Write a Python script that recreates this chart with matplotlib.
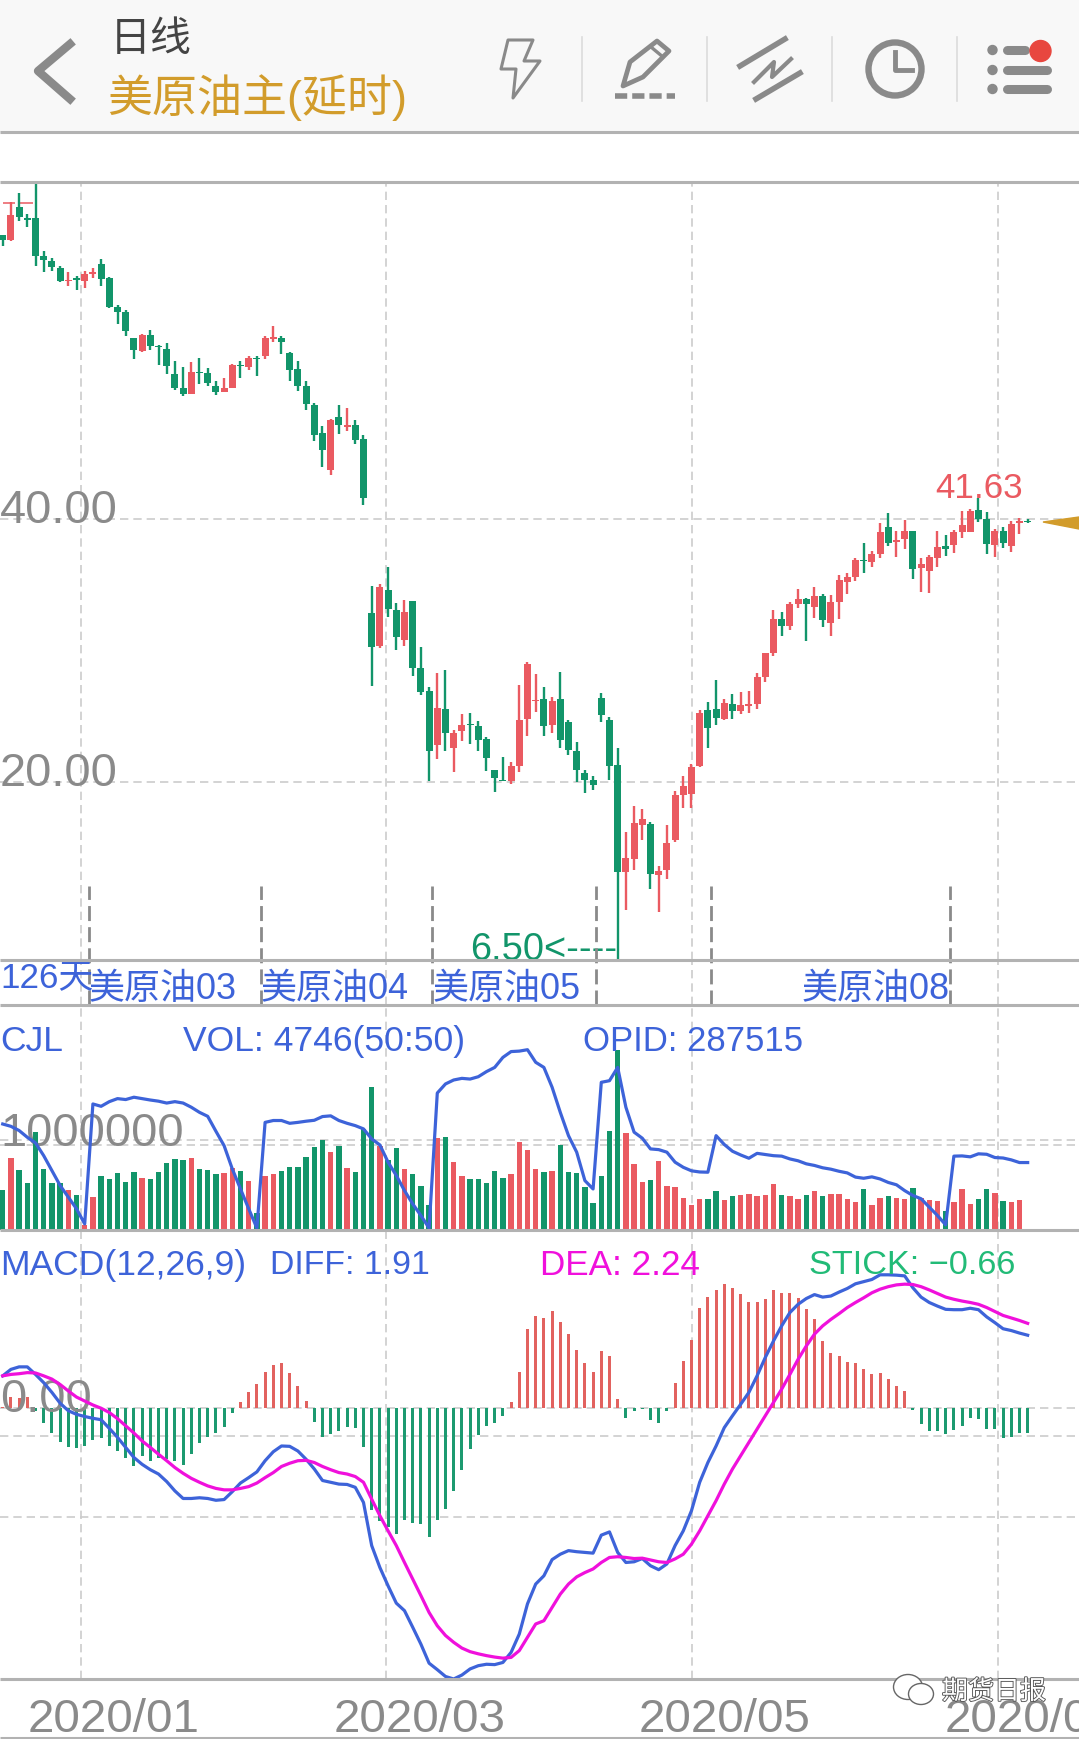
import matplotlib
matplotlib.use('Agg')
import matplotlib.pyplot as plt
from matplotlib.patches import Rectangle, Polygon, Circle, Ellipse
import matplotlib.patheffects as pe

plt.rcParams['font.family'] = ['Liberation Sans', 'Noto Sans CJK SC', 'DejaVu Sans']

# daily candles, index 0..125
opens = [61.62, 61.22, 63.75, 62.92, 62.87, 60.03, 59.65, 59.09, 58.10, 58.33,
         58.13, 58.66, 59.37, 58.33, 56.15, 55.72, 53.74, 52.78, 53.99, 53.16,
         52.90, 51.03, 49.94, 49.53, 51.18, 51.08, 50.09, 49.68, 49.99, 51.71,
         51.56, 52.27, 52.37, 53.69, 53.77, 52.62, 51.38, 50.09, 48.67, 46.51,
         43.73, 47.73, 46.97, 47.12, 46.08, 32.85, 30.32, 34.58, 33.06, 30.82,
         33.74, 28.64, 26.90, 22.84, 25.53, 22.56, 23.90, 24.41, 24.26, 23.27,
         20.89, 20.18, 20.10, 21.24, 24.82, 26.13, 26.29, 24.31, 26.29, 24.54,
         22.36, 20.66, 20.15, 26.39, 24.69, 21.27, 13.13, 14.14, 16.76, 16.81,
         12.95, 13.33, 15.56, 19.04, 19.09, 21.22, 25.45, 25.53, 24.79, 25.91,
         25.42, 25.80, 25.93, 28.01, 29.83, 32.37, 31.89, 33.56, 33.92, 33.33,
         34.17, 32.12, 33.71, 35.23, 35.61, 36.88, 36.73, 37.36, 39.39, 38.28,
         38.48, 39.09, 36.27, 36.07, 37.06, 37.92, 38.05, 39.04, 39.04, 40.66,
         40.00, 38.05, 39.06, 37.97, 39.72, 39.82]
closes = [61.24, 63.12, 62.94, 62.76, 60.03, 59.67, 59.16, 58.13, 58.20, 58.20,
          58.63, 58.81, 58.28, 56.15, 55.77, 54.27, 52.88, 54.02, 53.13, 53.06,
          51.66, 49.99, 49.51, 51.15, 51.08, 50.34, 49.68, 49.96, 51.71, 51.61,
          52.27, 52.17, 53.77, 53.82, 53.49, 51.36, 50.14, 48.72, 46.41, 45.27,
          47.53, 47.17, 47.17, 46.03, 41.62, 30.29, 34.83, 33.16, 31.05, 32.90,
          28.70, 26.87, 22.38, 25.60, 23.70, 23.70, 24.31, 24.31, 23.22, 21.85,
          20.33, 20.08, 21.19, 24.69, 29.00, 26.26, 24.28, 26.16, 23.22, 22.43,
          20.89, 20.18, 19.80, 25.12, 21.24, 13.13, 14.19, 16.86, 17.19, 12.98,
          13.23, 15.34, 19.04, 19.67, 21.12, 25.25, 24.13, 24.89, 26.01, 25.42,
          25.85, 25.91, 27.96, 29.78, 32.39, 31.89, 33.51, 33.92, 33.56, 34.12,
          32.29, 33.66, 35.36, 35.59, 36.88, 36.78, 37.31, 38.99, 38.17, 38.38,
          39.09, 36.22, 36.55, 37.11, 37.90, 37.72, 39.01, 39.52, 40.63, 40.00,
          38.12, 39.11, 38.20, 39.59, 39.82, 39.77]
highs = [61.62, 64.08, 64.79, 63.20, 65.73, 60.36, 59.82, 59.27, 58.76, 58.45,
         58.89, 59.06, 59.77, 58.38, 56.27, 55.92, 53.77, 54.07, 54.37, 53.23,
         53.36, 51.99, 51.53, 51.97, 52.22, 51.46, 50.49, 50.72, 51.76, 51.99,
         52.40, 52.42, 53.89, 54.65, 53.89, 52.68, 51.99, 50.47, 48.80, 47.07,
         47.60, 48.67, 48.42, 47.55, 46.39, 34.88, 35.06, 36.33, 33.61, 33.84,
         33.74, 30.24, 27.20, 28.29, 28.52, 23.98, 25.17, 25.25, 24.61, 23.40,
         20.89, 21.88, 21.50, 27.38, 29.10, 28.21, 27.20, 26.44, 28.34, 24.72,
         23.02, 20.91, 20.48, 26.77, 24.92, 22.59, 16.17, 18.20, 17.95, 16.93,
         13.64, 16.73, 19.34, 20.43, 21.37, 25.45, 26.06, 27.76, 26.31, 26.69,
         26.82, 26.89, 28.26, 29.81, 33.05, 32.90, 33.71, 34.68, 33.97, 34.83,
         34.30, 34.22, 35.74, 35.89, 37.06, 38.17, 37.59, 39.70, 40.46, 39.11,
         39.95, 39.09, 37.06, 37.26, 39.09, 38.78, 39.19, 40.61, 40.76, 41.63,
         40.51, 39.24, 39.37, 39.87, 40.05, 39.97]
lows = [60.74, 61.17, 62.69, 62.18, 59.22, 58.76, 58.89, 58.00, 57.75, 57.44,
        57.59, 58.33, 57.75, 56.07, 54.86, 53.94, 52.17, 52.73, 52.88, 51.74,
        51.03, 49.84, 49.38, 49.51, 50.27, 50.14, 49.46, 49.63, 49.96, 50.70,
        51.33, 50.90, 52.17, 53.49, 52.55, 50.52, 49.76, 48.31, 45.96, 43.93,
        43.37, 46.46, 46.72, 45.70, 41.06, 27.33, 30.22, 32.57, 30.06, 30.37,
        28.09, 26.64, 20.10, 21.75, 22.38, 20.79, 23.14, 22.89, 22.38, 20.86,
        19.26, 20.05, 19.85, 20.79, 23.52, 25.30, 23.52, 23.73, 22.59, 22.08,
        19.97, 19.16, 19.42, 24.59, 20.18, 6.50, 10.29, 13.33, 15.61, 11.86,
        10.09, 12.62, 15.46, 18.05, 18.05, 21.17, 22.59, 24.33, 24.74, 24.79,
        25.20, 25.27, 25.55, 27.58, 29.61, 31.13, 31.58, 33.26, 30.75, 32.50,
        31.81, 31.13, 32.39, 34.32, 35.31, 35.92, 36.35, 37.06, 37.92, 37.14,
        37.72, 35.44, 34.47, 34.40, 36.35, 37.19, 37.41, 38.58, 39.01, 39.80,
        37.34, 37.14, 37.79, 37.52, 38.88, 39.72]

# volume and open interest, thousands of lots
volume = [467, 843, 702, 549, 1145, 714, 549, 549, 467, 408,
          55, 384, 631, 596, 667, 561, 678, 608, 596, 678,
          784, 831, 820, 843, 714, 702, 655, 667, 726, 690,
          573, 196, 631, 655, 690, 737, 737, 855, 973, 1055,
          914, 984, 726, 678, 1184, 1679, 988, 820, 961, 714,
          655, 514, 290, 1079, 1090, 796, 631, 596, 596, 549,
          690, 608, 655, 1031, 937, 714, 678, 690, 996, 678,
          667, 502, 314, 631, 1161, 2114, 1137, 773, 561, 584,
          808, 514, 502, 373, 290, 361, 361, 455, 349, 396,
          408, 420, 396, 408, 537, 408, 396, 361, 408, 455,
          396, 420, 420, 361, 326, 478, 290, 373, 396, 373,
          361, 490, 373, 349, 337, 220, 326, 478, 302, 361,
          478, 431, 337, 326, 349, 4.7]
opid = [453, 443, 425, 396, 372, 317, 253, 189, 139, 89,
        24, 539, 529, 549, 562, 558, 568, 562, 556, 551,
        543, 549, 543, 525, 503, 486, 422, 360, 260, 174,
        89, 6, 460, 468, 468, 456, 460, 465, 469, 485,
        488, 468, 456, 446, 432, 389, 363, 289, 232, 167,
        110, 60, 6, 586, 625, 642, 649, 646, 656, 678,
        696, 739, 764, 766, 772, 718, 696, 611, 503, 403,
        332, 210, 174, 632, 639, 696, 525, 418, 392, 346,
        343, 332, 289, 267, 252, 247, 246, 403, 365, 336,
        320, 306, 327, 322, 317, 315, 303, 295, 282, 275,
        265, 259, 250, 243, 225, 220, 226, 217, 202, 192,
        167, 146, 132, 96, 60, 20, 315, 316, 312, 325,
        323, 309, 307, 299, 287.5, 287.5]

# MACD
diff = [0.90, 1.08, 1.15, 1.15, 0.94, 0.71, 0.44, 0.14, -0.07, -0.17,
        -0.23, -0.28, -0.32, -0.56, -0.81, -1.09, -1.37, -1.56, -1.71, -1.83,
        -2.04, -2.30, -2.51, -2.51, -2.49, -2.51, -2.56, -2.54, -2.32, -2.08,
        -1.93, -1.77, -1.46, -1.21, -1.05, -1.06, -1.19, -1.42, -1.69, -2.01,
        -2.06, -2.11, -2.12, -2.20, -2.62, -3.82, -4.43, -4.94, -5.42, -5.63,
        -6.09, -6.56, -7.09, -7.27, -7.46, -7.53, -7.42, -7.25, -7.16, -7.12,
        -7.13, -7.07, -6.79, -6.28, -5.44, -4.89, -4.66, -4.21, -4.06, -3.96,
        -3.99, -4.01, -4.03, -3.53, -3.44, -4.01, -4.29, -4.27, -4.18, -4.38,
        -4.49, -4.33, -3.82, -3.41, -2.85, -2.06, -1.51, -1.05, -0.54, -0.21,
        0.11, 0.44, 0.90, 1.41, 1.87, 2.29, 2.66, 2.89, 3.05, 3.16,
        3.09, 3.12, 3.23, 3.33, 3.46, 3.52, 3.58, 3.71, 3.71, 3.70,
        3.68, 3.35, 3.09, 2.94, 2.84, 2.75, 2.74, 2.74, 2.78, 2.74,
        2.54, 2.38, 2.21, 2.16, 2.09, 2.03]
dea = [0.90, 0.94, 0.96, 0.99, 0.98, 0.90, 0.81, 0.66, 0.48, 0.31,
       0.20, 0.09, 0.00, -0.12, -0.29, -0.49, -0.69, -0.91, -1.09, -1.28,
       -1.46, -1.65, -1.81, -1.95, -2.06, -2.16, -2.23, -2.27, -2.27, -2.23,
       -2.18, -2.08, -1.93, -1.79, -1.62, -1.53, -1.46, -1.45, -1.51, -1.62,
       -1.71, -1.79, -1.83, -1.90, -2.06, -2.53, -2.99, -3.41, -3.82, -4.29,
       -4.75, -5.21, -5.68, -6.05, -6.32, -6.51, -6.67, -6.77, -6.83, -6.88,
       -6.92, -6.95, -6.93, -6.74, -6.37, -6.00, -5.91, -5.54, -5.17, -4.89,
       -4.69, -4.57, -4.47, -4.29, -4.15, -4.13, -4.15, -4.18, -4.17, -4.22,
       -4.27, -4.29, -4.19, -4.06, -3.78, -3.41, -2.99, -2.57, -2.11, -1.69,
       -1.32, -0.95, -0.58, -0.21, 0.16, 0.53, 0.94, 1.36, 1.73, 2.06,
       2.29, 2.47, 2.63, 2.80, 2.94, 3.07, 3.21, 3.31, 3.38, 3.43,
       3.45, 3.44, 3.38, 3.29, 3.19, 3.09, 3.03, 2.98, 2.94, 2.89,
       2.80, 2.69, 2.58, 2.51, 2.44, 2.36]
stick = [0.04, 0.31, 0.28, 0.31, -0.07, -0.42, -0.68, -0.95, -1.09, -1.12,
         -1.05, -0.88, -0.83, -1.05, -1.19, -1.38, -1.62, -1.32, -1.48, -1.38,
         -1.42, -1.48, -1.58, -1.26, -0.96, -0.79, -0.70, -0.53, -0.12, 0.16,
         0.46, 0.67, 1.01, 1.21, 1.27, 0.98, 0.61, 0.19, -0.37, -0.81,
         -0.72, -0.64, -0.51, -0.54, -1.08, -2.83, -3.13, -3.31, -3.50, -3.11,
         -3.18, -3.22, -3.59, -3.11, -2.79, -2.31, -1.71, -1.13, -0.75, -0.49,
         -0.40, -0.22, 0.17, 1.01, 2.19, 2.56, 2.51, 2.69, 2.39, 2.06,
         1.63, 1.27, 1.00, 1.60, 1.44, 0.25, -0.28, -0.07, -0.01, -0.34,
         -0.42, -0.09, 0.69, 1.30, 1.89, 2.79, 3.10, 3.30, 3.45, 3.33,
         3.17, 2.94, 2.94, 3.04, 3.30, 3.21, 3.21, 3.07, 2.76, 2.47,
         1.86, 1.54, 1.44, 1.28, 1.25, 1.09, 0.96, 0.99, 0.81, 0.61,
         0.47, -0.04, -0.43, -0.62, -0.62, -0.71, -0.61, -0.49, -0.26, -0.31,
         -0.58, -0.58, -0.84, -0.79, -0.68, -0.68]

# where the contract rolls and the month grid sit on the day axis
roll_days = [10.5, 31.5, 52.4, 72.4, 86.4, 115.5]
contract_labels = {10.5: '美原油03', 31.5: '美原油04', 52.4: '美原油05'}
month_days = [9.55, 46.8, 84.1, 121.4]
month_labels = ['2020/01', '2020/03', '2020/05', '2020/07']
price_ticks = [20, 40]

RED = '#ea5a61'
GREEN = '#12956a'
BLUE = '#3d63d9'
MAGENTA = '#f010dc'
GRAY = '#8a8a8a'
GRID = '#cccccc'
LINE = '#b2b2b2'
GOLD = '#d29c2b'

W, H = 1079, 1740
days = list(range(len(opens)))
fig = plt.figure(figsize=(W / 100, H / 100), dpi=100, facecolor='white')


def panel(top, bottom):
    ax = fig.add_axes([0, 1 - bottom / H, 1, (bottom - top) / H])
    ax.set_xlim(-0.33, 131.26)
    ax.set_axis_off()
    return ax


def px(size):
    return size * 0.72


ax_price = panel(183, 961)
ax_vol = panel(1006, 1230.5)
ax_macd = panel(1230.5, 1680)
ax_band = panel(887, 1006)
ax_date = panel(1680, 1738)

# price panel
ax_price.set_ylim(6.46, 65.63)
ax_price.vlines(month_days, 6.46, 65.63, color=GRID, lw=1.2, ls=(0, (5, 3)), zorder=1)
ax_price.hlines(price_ticks, -0.33, 131.26, color=GRID, lw=1.2, ls=(0, (5, 3)), zorder=1)
for t in price_ticks:
    ax_price.text(-0.33, t - 0.25, '%.2f' % t, color=GRAY, fontsize=px(47), va='baseline', zorder=1.5)
colors = [RED if c >= o else GREEN for o, c in zip(opens, closes)]
ax_price.hlines(64.0, 0.05, 1.5, color=RED, lw=1.1, zorder=2)
ax_price.hlines(64.0, 1.9, 3.7, color=RED, lw=1.1, zorder=2)
ax_price.vlines(days, lows, highs, colors=colors, lw=1.7, zorder=3)
ax_price.bar(days, [abs(c - o) for o, c in zip(opens, closes)],
             bottom=[min(o, c) for o, c in zip(opens, closes)],
             width=0.84, color=colors, zorder=4)
ax_price.text(113.7, 41.7, '41.63', color=RED, fontsize=px(35), zorder=5)
ax_price.text(57.0, 6.5, '6.50<----', color=GREEN, fontsize=px(38), zorder=5, clip_on=False)

# roll markers reach down from the price panel through the contract row
ax_band.set_ylim(0, 1)
ax_band.vlines(month_days, 0, 0.38, color=GRID, lw=1.2, ls=(0, (5, 3)))
ax_band.vlines(roll_days, 0, 1, color=GRAY, lw=2, ls=(0, (5.4, 2.2)))
for day, label in contract_labels.items():
    ax_band.text(day, 0.14, label, color=BLUE, fontsize=px(36), va='center')
ax_band.text(roll_days[-1], 0.14, '美原油08', color=BLUE, fontsize=px(36), va='center', ha='right')
ax_band.text(-0.33, 0.23, '%d天' % len(days), color=BLUE, fontsize=px(35), va='center')

# volume panel
ax_vol.set_ylim(0, 2645)
ax_vol.vlines(month_days, 0, 2645, color=GRID, lw=1.2, ls=(0, (5, 3)), zorder=1)
ax_vol.hlines([1000, 1059], -0.33, 131.26, color=GRID, lw=1.2, ls=(0, (5, 3)), zorder=1)
ax_vol.text(-0.33, 990, '1000000', color=GRAY, fontsize=px(47), va='baseline', zorder=1.5)
ax_vol.bar(days, volume, width=0.66, color=colors, zorder=2)
ax_opid = ax_vol.twinx()
ax_opid.set_axis_off()
ax_opid.set_ylim(0, 964)
ax_opid.plot(days, opid, color=BLUE, lw=2.3, zorder=3)

# MACD panel
ax_macd.set_ylim(-7.53, 4.97)
ax_macd.vlines(month_days, -7.53, 4.97, color=GRID, lw=1.2, ls=(0, (5, 3)), zorder=0.5)
ax_macd.hlines([0, -0.78, -3.03], -0.33, 131.26, color=GRID, lw=1.2, ls=(0, (5, 3)), zorder=0.5)
ax_macd.bar(days, stick, width=0.36, color=['#e2625f' if s >= 0 else '#1c9a70' for s in stick], zorder=1)
ax_macd.text(-0.33, -0.07, '0.00', color=GRAY, fontsize=px(47), va='baseline', zorder=2)
ax_macd.plot(days, diff, color=BLUE, lw=2.3, zorder=3)
ax_macd.plot(days, dea, color=MAGENTA, lw=2.3, zorder=4)

# month labels
ax_date.set_ylim(0, 1)
for day, label in zip(month_days, month_labels):
    ax_date.text(day - 6.5, 0.11, label, color=GRAY, fontsize=px(47.5), va='baseline')

# header and the rest of the screen, in screen pixels
ui = fig.add_axes([0, 0, 1, 1])
ui.set_xlim(0, W)
ui.set_ylim(H, 0)
ui.set_axis_off()
ui.patch.set_alpha(0)

ui.add_patch(Rectangle((0, 0), W, 133, color='#f8f8f8', zorder=1))
for y in [133, 183, 961, 1006, 1230.5, 1680, 1738.5]:
    ui.plot([0, W], [y, y], color=LINE, lw=2.2, zorder=2, solid_capstyle='butt')

ui.text(110, 40, '日线', color='#444444', fontsize=px(41), va='center', zorder=3)
ui.text(107, 98, '美原油主(延时)', color=GOLD, fontsize=px(45), va='center', zorder=3)

icon = dict(color=GRAY, zorder=3)
ui.plot([70, 38, 70], [45, 72, 100], lw=6, solid_joinstyle='round', **icon)
ui.add_patch(Polygon([(508, 41), (533, 41), (524, 62), (540, 62), (513, 99), (516, 70), (501, 70)],
                     closed=True, fill=False, ec=GRAY, lw=2.2, joinstyle='round', zorder=3))
for x in [581.6, 707, 832, 957]:
    ui.plot([x, x], [38, 102], color='#dcdcdc', lw=1.2, zorder=3)
ui.add_patch(Polygon([(623, 87), (630, 63), (657, 42), (669, 52), (643, 78)],
                     closed=True, fill=False, ec=GRAY, lw=3.4, joinstyle='round', zorder=3))
ui.plot([651, 663], [48, 58], lw=2.4, **icon)
ui.plot([615, 675], [97, 97], lw=4, ls=(0, (2.2, 0.9)), **icon)
ui.plot([740, 785], [67, 40], lw=4, **icon)
ui.plot([756, 800], [100, 74], lw=4, **icon)
ui.plot([754, 774, 772, 791], [83, 63, 78, 60], lw=3, **icon)
ui.add_patch(Circle((895, 70), 26.5, fill=False, ec=GRAY, lw=4.6, zorder=3))
ui.plot([895, 895, 912], [53, 71, 71], lw=3.5, **icon)
for y, end in [(51, 1025), (71, 1047), (90, 1047)]:
    ui.add_patch(Circle((992.5, y), 4.5, color=GRAY, zorder=3))
    ui.plot([1007, end], [y, y], lw=6.5, solid_capstyle='round', **icon)
ui.add_patch(Circle((1040.5, 52), 10.5, color='#e8473f', zorder=4))

ui.add_patch(Polygon([(1043, 523), (1079, 518), (1079, 530)], closed=True, color=GOLD, zorder=3))

# row captions
for x, y, label, color, size in [(0, 1042, 'CJL', BLUE, 35.5),
                                 (183, 1042, 'VOL: 4746(50:50)', BLUE, 35.5),
                                 (583, 1042, 'OPID: 287515', BLUE, 34.8),
                                 (0, 1266, 'MACD(12,26,9)', BLUE, 35.5),
                                 (270, 1266, 'DIFF: 1.91', BLUE, 33.8),
                                 (540, 1266, 'DEA: 2.24', MAGENTA, 35),
                                 (809, 1266, 'STICK: −0.66', '#22bb77', 34.3)]:
    ui.text(x, y, label, color=color, fontsize=px(size), va='center', zorder=5)

# watermark
for xy, w, h in [((908, 1688), 29, 25), ((921, 1695), 25, 21)]:
    ui.add_patch(Ellipse(xy, w, h, fc='white', ec='#666666', lw=1, zorder=6))
ui.text(942, 1693, '期货日报', color='white', fontsize=px(26), va='center', zorder=6,
        path_effects=[pe.withStroke(linewidth=1.3, foreground='#555555')])

plt.savefig('out.png', dpi=100)
